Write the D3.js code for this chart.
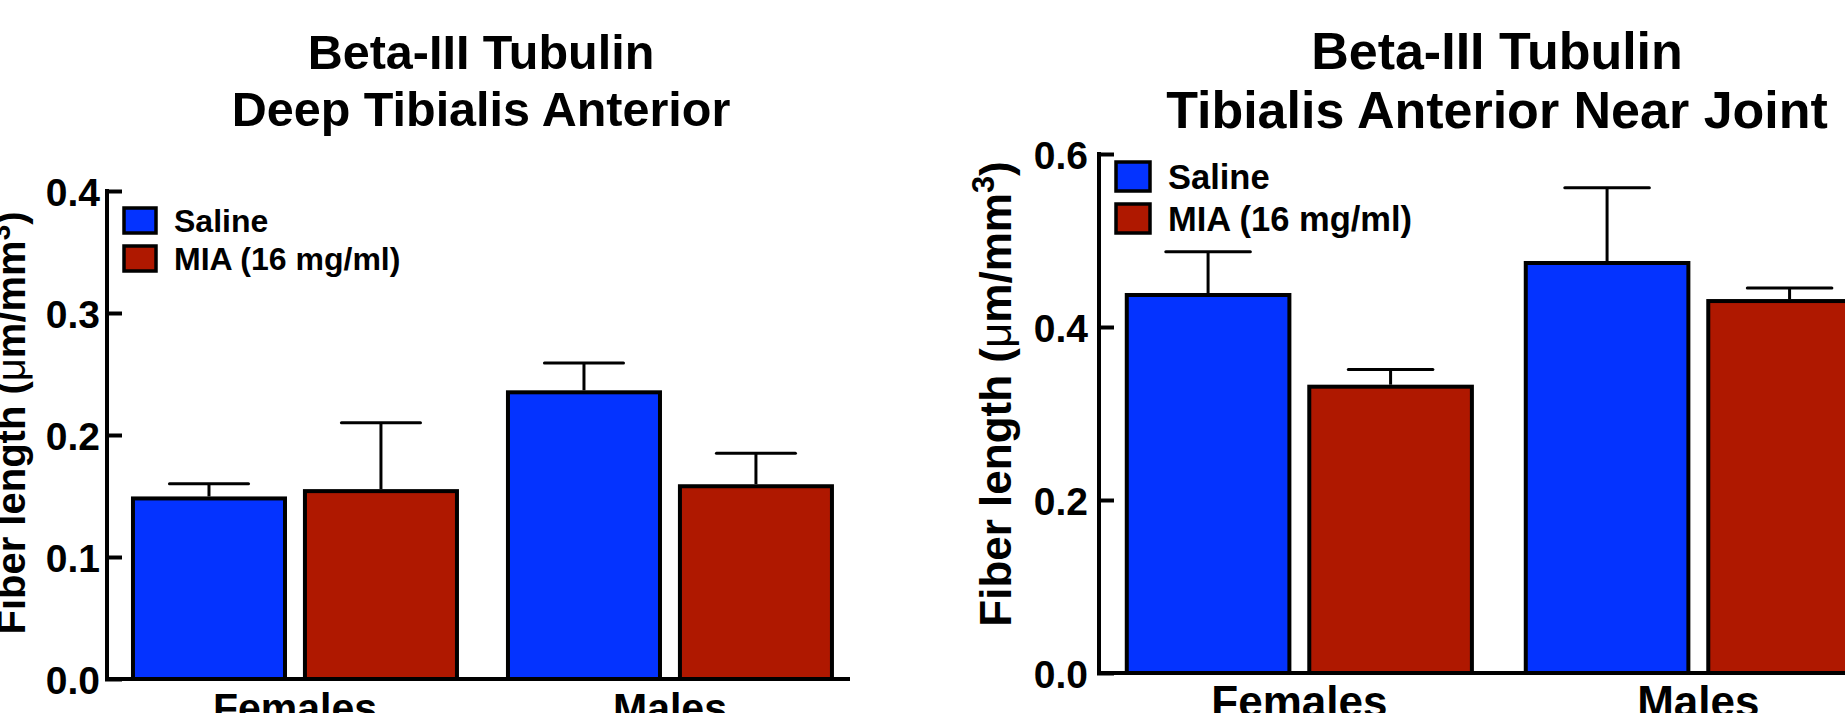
<!DOCTYPE html>
<html>
<head>
<meta charset="utf-8">
<script src="https://cdn.jsdelivr.net/npm/d3@7"></script>
<style>
  html, body { margin: 0; padding: 0; background: #fff; overflow: hidden; }
  svg { display: block; }
  text { font-family: "Liberation Sans", Arial, Helvetica, sans-serif; font-weight: bold; fill: #000; }
</style>
</head>
<body>
<svg id="chart" width="1845" height="713"></svg>
<script>
// ---------------- data ----------------
const categories = ["Females", "Males"];
const seriesNames = ["Saline", "MIA (16 mg/ml)"];
const seriesColors = ["#0433FF", "#AF1800"];

// Panel 1: Deep Tibialis Anterior
const deepSaline = [0.148, 0.235];
const deepSalineSem = [0.012, 0.024];
const deepMIA = [0.154, 0.158];
const deepMIASem = [0.056, 0.027];
const deepTicks = [0.0, 0.1, 0.2, 0.3, 0.4];

// Panel 2: Tibialis Anterior Near Joint
const jointSaline = [0.437, 0.474];
const jointSalineSem = [0.050, 0.087];
const jointMIA = [0.331, 0.430];
const jointMIASem = [0.020, 0.015];
const jointTicks = [0.0, 0.2, 0.4, 0.6];

const titleLine1 = "Beta-III Tubulin";
const deepTitle2 = "Deep Tibialis Anterior";
const jointTitle2 = "Tibialis Anterior Near Joint";

// ---------------- drawing ----------------
const svg = d3.select("#chart");

function drawPanel(p) {
  const g = svg.append("g");
  const y = d3.scaleLinear().domain([0, p.yMax]).range([p.y0, p.y1]);
  const x = d3.scaleBand().domain(categories).range([p.xStart, p.xEnd])
    .paddingInner(p.padInner).paddingOuter(p.padOuter).align(p.align);
  const xs = d3.scaleBand().domain(seriesNames).range([0, x.bandwidth()]).paddingInner(p.padSub);

  const rows = [];
  categories.forEach((c, i) => {
    seriesNames.forEach((s, j) => {
      rows.push({ cat: c, ser: s, color: seriesColors[j], v: p.values[j][i], e: p.sems[j][i] });
    });
  });

  // bars
  g.selectAll("rect.bar").data(rows).join("rect")
    .attr("class", "bar")
    .attr("x", d => x(d.cat) + xs(d.ser))
    .attr("y", d => y(d.v))
    .attr("width", xs.bandwidth())
    .attr("height", d => y(0) - y(d.v))
    .attr("fill", d => d.color)
    .attr("stroke", "#000")
    .attr("stroke-width", p.barStroke);

  // error bars (upper only)
  const cx = d => x(d.cat) + xs(d.ser) + xs.bandwidth() / 2;
  g.selectAll("line.err").data(rows).join("line")
    .attr("x1", cx).attr("x2", cx)
    .attr("y1", d => y(d.v) - p.barStroke / 2).attr("y2", d => y(d.v + d.e))
    .attr("stroke", "#000").attr("stroke-width", p.errStroke);
  g.selectAll("line.cap").data(rows).join("line")
    .attr("x1", d => cx(d) - xs.bandwidth() * p.capFrac / 2)
    .attr("x2", d => cx(d) + xs.bandwidth() * p.capFrac / 2)
    .attr("y1", d => y(d.v + d.e)).attr("y2", d => y(d.v + d.e))
    .attr("stroke", "#000").attr("stroke-width", p.errStroke)
    .attr("stroke-linecap", "round");

  // y axis (ticks pointing inward)
  const ya = g.append("g").attr("transform", `translate(${p.xAxis},0)`)
    .call(d3.axisLeft(y).tickValues(p.ticks).tickFormat(d3.format(".1f"))
      .tickSizeInner(-p.tickLen).tickSizeOuter(0).tickPadding(p.tickPad));
  ya.select(".domain").attr("stroke-width", p.axisStroke).attr("stroke", "#000")
    .attr("d", `M0,${y(p.yMax) - p.axisStroke / 2}V${y(0) + p.axisStroke / 2}`);
  ya.selectAll(".tick line").attr("stroke-width", p.axisStroke).attr("stroke", "#000")
    .attr("x1", -p.axisStroke / 2);
  ya.selectAll(".tick text").attr("font-size", p.tickFont).attr("dy", "0.36em");
  ya.attr("font-family", null);

  // x axis
  const xa = g.append("g").attr("transform", `translate(0,${y(0)})`)
    .call(d3.axisBottom(x).tickSize(0).tickPadding(p.catPad));
  xa.select(".domain").attr("stroke-width", p.axisStroke).attr("stroke", "#000")
    .attr("d", `M${p.xAxis - p.axisStroke / 2},0H${p.xEnd}`);
  xa.selectAll(".tick text").attr("font-size", p.catFont);
  xa.attr("font-family", null);

  // titles
  g.append("text").attr("x", p.titleX).attr("y", p.title1Y).attr("text-anchor", "middle")
    .attr("font-size", p.titleFont).text(titleLine1);
  g.append("text").attr("x", p.titleX).attr("y", p.title2Y).attr("text-anchor", "middle")
    .attr("font-size", p.titleFont).text(p.title2);

  // y label
  const yl = g.append("text")
    .attr("transform", `translate(${p.ylabX},${p.ylabY}) rotate(-90)`)
    .attr("text-anchor", "middle").attr("font-size", p.ylabFont);
  yl.append("tspan").text("Fiber length (");
  yl.append("tspan").attr("font-weight", "normal").text("\u03bc");
  yl.append("tspan").text("m/mm");
  yl.append("tspan").attr("font-size", p.ylabFont * 0.7).attr("dy", -p.ylabFont * 0.38).text("3");
  yl.append("tspan").attr("dy", p.ylabFont * 0.38).text(")");

  // legend
  const lg = g.append("g");
  seriesNames.forEach((s, j) => {
    const yy = p.legY + j * p.legStep;
    lg.append("rect").attr("x", p.legX).attr("y", yy)
      .attr("width", p.legW).attr("height", p.legH)
      .attr("fill", seriesColors[j]).attr("stroke", "#000").attr("stroke-width", p.legStroke);
    lg.append("text").attr("x", p.legTextX).attr("y", yy + p.legH / 2).attr("dy", "0.36em")
      .attr("font-size", p.legFont).text(s);
  });
}

drawPanel({
  values: [deepSaline, deepMIA], sems: [deepSalineSem, deepMIASem], ticks: deepTicks,
  yMax: 0.4, y0: 679, y1: 191,
  xAxis: 107, xStart: 107, xEnd: 850, padInner: 0.136, padOuter: 0.0587, align: 0.59, padSub: 0.116,
  barStroke: 4, errStroke: 3, capFrac: 0.52, axisStroke: 4, tickLen: 15, tickPad: 7, tickFont: 39,
  catPad: 14, catFont: 41,
  titleX: 481, title1Y: 69, title2Y: 126, titleFont: 48.5, title2: deepTitle2,
  ylabX: 25, ylabY: 423, ylabFont: 40,
  legX: 124, legY: 208, legW: 32, legH: 25, legStep: 38, legStroke: 3.5, legTextX: 174, legFont: 32
});

drawPanel({
  values: [jointSaline, jointMIA], sems: [jointSalineSem, jointMIASem], ticks: jointTicks,
  yMax: 0.6, y0: 673, y1: 154,
  xAxis: 1099, xStart: 1099, xEnd: 1891, padInner: 0.135, padOuter: 0.06, align: 0.58, padSub: 0.109,
  barStroke: 4, errStroke: 3, capFrac: 0.52, axisStroke: 4, tickLen: 15, tickPad: 11, tickFont: 39,
  catPad: 13, catFont: 44,
  titleX: 1497, title1Y: 69, title2Y: 128, titleFont: 52, title2: jointTitle2,
  ylabX: 1011, ylabY: 394, ylabFont: 44,
  legX: 1116, legY: 162, legW: 34, legH: 29, legStep: 42, legStroke: 3.5, legTextX: 1168, legFont: 34.5
});
</script>
</body>
</html>
